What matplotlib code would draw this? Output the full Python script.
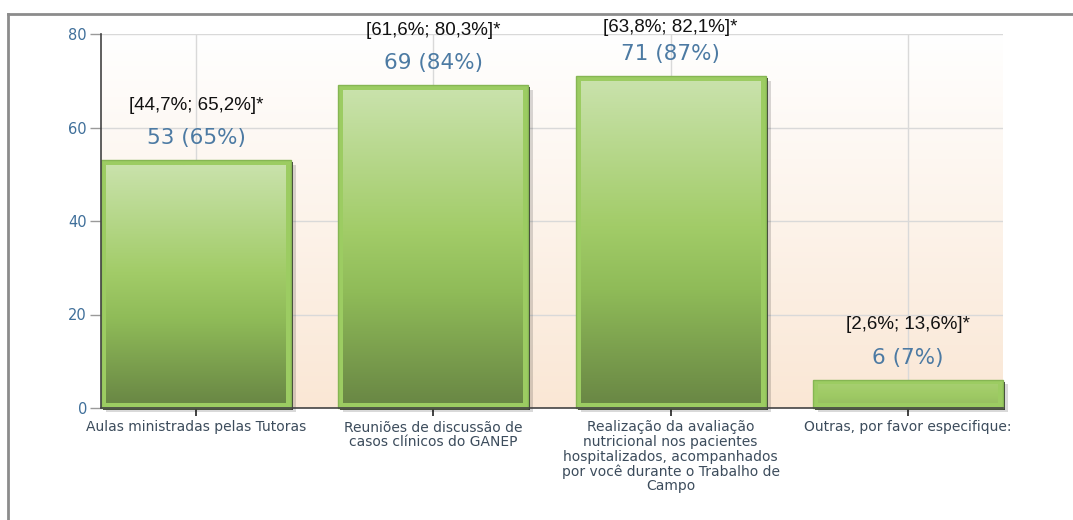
import numpy as np
import matplotlib
matplotlib.use("Agg")
import matplotlib.pyplot as plt
import matplotlib.patheffects as pe
from matplotlib.colors import to_rgb
from matplotlib.lines import Line2D

categories = [
    "Aulas ministradas pelas Tutoras",
    "Reuniões de discussão de\ncasos clínicos do GANEP",
    "Realização da avaliação\nnutricional nos pacientes\nhospitalizados, acompanhados\npor você durante o Trabalho de\nCampo",
    "Outras, por favor especifique:",
]
counts = [53, 69, 71, 6]
percents = [65, 84, 87, 7]
ci_labels = ["[44,7%; 65,2%]*", "[61,6%; 80,3%]*", "[63,8%; 82,1%]*", "[2,6%; 13,6%]*"]
yticks = [0, 20, 40, 60, 80]

W, H, DPI = 1073, 520, 100
fig = plt.figure(figsize=(W / DPI, H / DPI), dpi=DPI)
fig.patch.set_facecolor("white")

ax_l, ax_r, ax_t, ax_b = 101, 1003, 34, 408
ax = fig.add_axes([ax_l / W, 1 - ax_b / H, (ax_r - ax_l) / W, (ax_b - ax_t) / H])

# outer frame (top and left lines)
fig.add_artist(Line2D([8 / W, 1.0], [1 - 14 / H, 1 - 14 / H], transform=fig.transFigure,
                      color="#8c8c8c", lw=2.0))
fig.add_artist(Line2D([8 / W, 8 / W], [0, 1 - 14 / H], transform=fig.transFigure,
                      color="#8c8c8c", lw=2.0))

# background gradient
top_c = np.array(to_rgb("#ffffff"))
bot_c = np.array(to_rgb("#fae7d5"))
t = np.linspace(0, 1, 256)[:, None]
bg = (top_c[None, :] * (1 - t) + bot_c[None, :] * t)[:, None, :]
ax.imshow(bg, extent=[0, 1, 0, 1], transform=ax.transAxes, aspect="auto", zorder=0)

x = np.arange(len(categories))
ax.set_xlim(-0.4, 3.4)
ax.set_ylim(0, 80)

ax.grid(True, color="#d9d9d9", lw=1.0, zorder=1)
ax.set_axisbelow(True)

bars = ax.bar(x, counts, width=0.8, color="#9ccc62", edgecolor="#86b653", lw=1.0, zorder=3)
for b in bars:
    b.set_clip_on(False)
    b.set_path_effects([
        pe.SimplePatchShadow(offset=(3.6, -3.2), shadow_rgbFace="#000000", alpha=0.15),
        pe.SimplePatchShadow(offset=(1.5, -1.3), shadow_rgbFace="#2a2a2a", alpha=0.9),
        pe.Normal(),
    ])

# inner gradient for each bar
stops_t = np.array([0.0, 0.35, 0.55, 1.0])
stops_c = np.array([to_rgb(c) for c in ["#6a8845", "#8fbb58", "#a2cc68", "#c9e2ab"]])
mid = np.array(to_rgb("#a0cb66"))
px_x = (ax_r - ax_l) / 3.8
px_y = (ax_b - ax_t) / 80.0
inset_x = 5 / px_x
inset_y = 5 / px_y
for b, v in zip(bars, counts):
    x0 = b.get_x() + inset_x
    x1 = b.get_x() + b.get_width() - inset_x
    y0 = inset_y
    y1 = v - inset_y
    amp = min(1.0, v / 40.0)
    tt = np.linspace(1, 0, 128)
    cols = np.stack([np.interp(tt, stops_t, stops_c[:, k]) for k in range(3)], axis=1)
    cols = mid + amp * (cols - mid)
    img = cols[:, None, :]
    ax.imshow(img, extent=[x0, x1, y0, y1], aspect="auto", zorder=4, interpolation="bilinear")
ax.set_xlim(-0.4, 3.4)
ax.set_ylim(0, 80)

# labels above bars
for xi, v, p, ci in zip(x, counts, percents, ci_labels):
    ax.annotate(f"{v} ({p}%)", (xi, v), xytext=(0, 22 * 72 / DPI), textcoords="offset points",
                ha="center", va="center", fontsize=15.5, color="#4c7aa3",
                family="DejaVu Sans", zorder=6)
    top_px = ax_b - v * px_y
    ci_px = max(top_px - 55, 27)
    ax.annotate(ci, (xi, v), xytext=(0, (top_px - ci_px) * 72 / DPI), textcoords="offset points",
                ha="center", va="center", fontsize=13.5, color="#111111",
                family="Liberation Sans", zorder=6)

ax.set_yticks(yticks)
ax.set_yticklabels([str(v) for v in yticks], fontsize=10.5, color="#3f6f9a", family="DejaVu Sans")
ax.set_xticks(x)
ax.set_xticklabels(categories, fontsize=10, color="#3c4c5c", family="DejaVu Sans",
                   linespacing=1.05)
ax.tick_params(axis="y", length=8, width=1, color="#9a9a9a", pad=2)
ax.tick_params(axis="x", length=6, width=1.2, color="#222222", pad=3)

for s in ["top", "right"]:
    ax.spines[s].set_visible(False)
ax.spines["left"].set_color("#444444")
ax.spines["bottom"].set_color("#444444")
ax.spines["left"].set_linewidth(1.2)
ax.spines["bottom"].set_linewidth(1.2)
ax.spines["left"].set_zorder(5)
ax.spines["bottom"].set_zorder(5)

fig.savefig("out.png", dpi=DPI)
